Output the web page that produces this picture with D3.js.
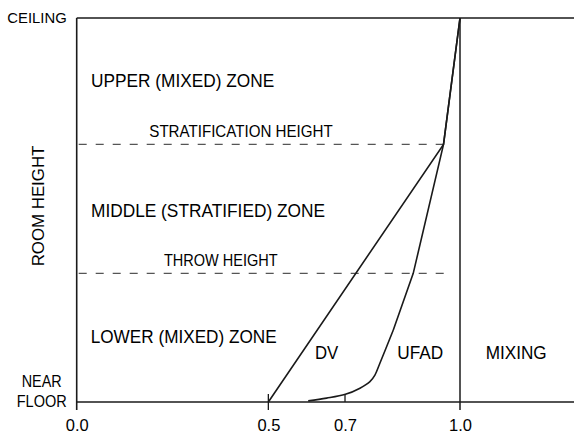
<!DOCTYPE html>
<meta charset="utf-8">
<style>
  body { margin: 0; background: #fff; }
  svg { display: block; }
  text { font-family: "Liberation Sans", Arial, Helvetica, sans-serif; fill: #000; }
</style>
<svg width="574" height="436"></svg>
<script src="https://cdn.jsdelivr.net/npm/d3@7"></script>
<script>
// ---- data (x = normalised value, h = fraction of room height)
var xTicks = [0.0, 0.5, 0.7, 1.0];
var throwHeight = 0.335;
var stratHeight = 0.671;
var dvX = [0.5, 0.957, 1.0];
var dvH = [0.0, 0.671, 1.0];
var ufadX = [0.604, 0.652, 0.701, 0.739, 0.765, 0.778, 0.791, 0.826, 0.878, 0.957, 1.0];
var ufadH = [0.003, 0.010, 0.020, 0.036, 0.053, 0.070, 0.101, 0.1875, 0.335, 0.671, 1.0];
var mixingX = 1.0;

var svg = d3.select("svg"),
    W = +svg.attr("width");

var x = d3.scaleLinear().domain([0, 1]).range([76.7, 460]),
    y = d3.scaleLinear().domain([0, 1]).range([402, 18]);

var ink = "#1a1a1a";

// frame: ceiling, left wall, floor
svg.append("line").attr("x1", x(0)).attr("x2", W).attr("y1", y(1)).attr("y2", y(1))
  .attr("stroke", ink).attr("stroke-width", 1.6);
svg.append("line").attr("x1", x(0)).attr("x2", x(0)).attr("y1", y(1)).attr("y2", y(0) + 8)
  .attr("stroke", ink).attr("stroke-width", 1.6);
svg.append("line").attr("x1", x(0)).attr("x2", W).attr("y1", y(0)).attr("y2", y(0))
  .attr("stroke", ink).attr("stroke-width", 1.6);

// dashed zone boundaries
svg.selectAll(".zone")
  .data([stratHeight, throwHeight])
  .enter().append("line")
  .attr("class", "zone")
  .attr("x1", x(0) + 2).attr("x2", x(1) - 10)
  .attr("y1", function(d) { return y(d); })
  .attr("y2", function(d) { return y(d); })
  .attr("stroke", "#555").attr("stroke-width", 1.3)
  .attr("stroke-dasharray", "8,9");

// mixing line
svg.append("line").attr("x1", x(mixingX)).attr("x2", x(mixingX))
  .attr("y1", y(1)).attr("y2", y(0) + 8)
  .attr("stroke", ink).attr("stroke-width", 1.5);

// x axis labels
var xAxis = d3.axisBottom(x).tickValues(xTicks).tickFormat(d3.format(".1f"))
  .tickSize(0).tickPadding(17);
var ax = svg.append("g").attr("transform", "translate(0," + y(0) + ")").call(xAxis);
ax.select(".domain").remove();
ax.selectAll("text").style("font-size", "16.5px").attr("fill", "#000")
  .style("font-family", "'Liberation Sans', Arial, sans-serif");

// small ticks on the floor line
svg.append("line").attr("x1", x(0.5)).attr("x2", x(0.5)).attr("y1", y(0) - 8).attr("y2", y(0) + 8)
  .attr("stroke", ink).attr("stroke-width", 1.3);
svg.append("line").attr("x1", x(0.7)).attr("x2", x(0.7)).attr("y1", y(0) - 8).attr("y2", y(0))
  .attr("stroke", ink).attr("stroke-width", 1.3);

// DV profile
var dv = dvX.map(function(v, i) { return [v, dvH[i]]; });
svg.append("path").datum(dv)
  .attr("d", d3.line().x(function(d) { return x(d[0]); }).y(function(d) { return y(d[1]); }))
  .attr("fill", "none").attr("stroke", ink).attr("stroke-width", 1.6);

// UFAD profile: curved foot, straight segments above
var ufad = ufadX.map(function(v, i) { return [v, ufadH[i]]; });
var k = ufadH.indexOf(0.1875);
svg.append("path").datum(ufad.slice(0, k + 1))
  .attr("d", d3.line().curve(d3.curveCatmullRom.alpha(0.5))
    .x(function(d) { return x(d[0]); }).y(function(d) { return y(d[1]); }))
  .attr("fill", "none").attr("stroke", ink).attr("stroke-width", 1.6);
svg.append("path").datum(ufad.slice(k))
  .attr("d", d3.line().x(function(d) { return x(d[0]); }).y(function(d) { return y(d[1]); }))
  .attr("fill", "none").attr("stroke", ink).attr("stroke-width", 1.6);

// text labels, squeezed to the narrow face of the original
function label(txt, x0, x1, base, size) {
  return svg.append("text")
    .attr("x", x0).attr("y", base)
    .attr("textLength", x1 - x0).attr("lengthAdjust", "spacingAndGlyphs")
    .style("font-size", size + "px")
    .text(txt);
}

label("CEILING", 7.3, 66.7, 23.3, 15);
label("NEAR", 21.7, 61.7, 386.7, 16.5);
label("FLOOR", 16.7, 66.7, 407.3, 16.5);
label("UPPER (MIXED) ZONE", 91, 274.3, 86.7, 18.5);
label("STRATIFICATION HEIGHT", 149.3, 332.7, 137.3, 17);
label("MIDDLE (STRATIFIED) ZONE", 91, 325, 216.7, 18.5);
label("THROW HEIGHT", 164, 277.7, 266, 17);
label("LOWER (MIXED) ZONE", 90.7, 276.7, 342.7, 18.5);
label("DV", 315, 338.3, 359.3, 19);
label("UFAD", 397.3, 443.3, 359.3, 19);
label("MIXING", 485.7, 546.7, 359.3, 19);

svg.append("text")
  .attr("transform", "translate(44,206) rotate(-90)")
  .attr("text-anchor", "middle")
  .attr("textLength", 120.7).attr("lengthAdjust", "spacingAndGlyphs")
  .style("font-size", "16px")
  .text("ROOM HEIGHT");
</script>
